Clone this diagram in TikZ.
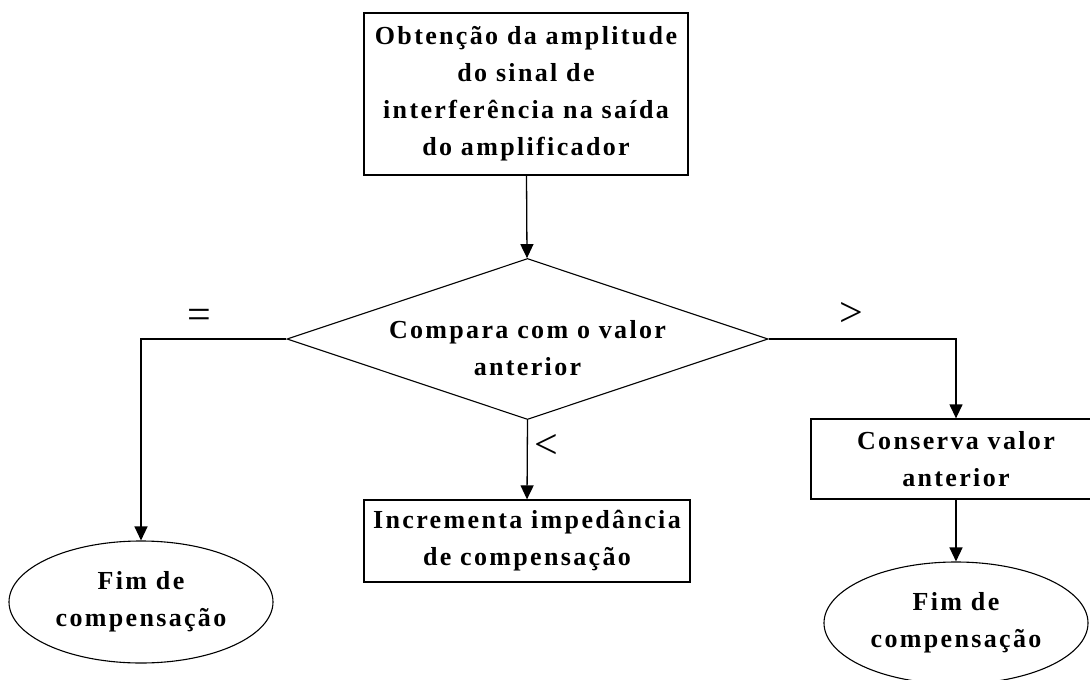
\documentclass[tikz,border=0pt]{standalone}
\usepackage{fontspec}
\setmainfont{Liberation Serif}[LetterSpace = 9]
\usetikzlibrary{shapes.geometric, arrows.meta}

\tikzset{
	texto/.style = {align = center, inner sep = 0pt, font = \fontsize{26}{37}\selectfont\bfseries},
	caixa/.style = {texto, draw, line width = 1.3pt, rectangle},
	losango/.style = {draw, line width = 1.1pt, diamond, aspect = 3, inner sep = 0pt, minimum width = 481pt, minimum height = 161pt},
	fim/.style = {texto, draw, line width = 1.1pt, ellipse, minimum width = 264pt, minimum height = 122pt},
	seta/.style = {line width = 1.3pt, -{Triangle[length = 14pt, width = 13pt]}},
	sinal/.style = {font = \fontsize{42}{42}\selectfont, inner sep = 0pt}
}

\begin{document}
\begin{tikzpicture}[x = 1pt, y = -1pt]
	%	frame
	\useasboundingbox (0, 0) rectangle (1090, 680);
	
	%	blocks
	\node[caixa, minimum width = 324pt, minimum height = 162pt] (obtencao) at (526, 94) {Obtenção da amplitude\\do sinal de\\interferência na saída\\do amplificador};
	\node[losango, label = {[texto, yshift = -9pt]center:{Compara com o valor\\anterior}}] (compara) at (527.5, 339) {};
	\node[caixa, minimum width = 326pt, minimum height = 82pt] (incrementa) at (527, 541) {Incrementa impedância\\de compensação};
	\node[caixa, minimum width = 290pt, minimum height = 80pt] (conserva) at (956, 459) {Conserva valor\\anterior};
	
	%	ends
	\node[fim] (fimesq) at (141, 602) {Fim de\\compensação};
	\node[fim] (fimdir) at (956, 623) {Fim de\\compensação};
	
	%	arrows
	\draw[seta] (obtencao) -- (compara);
	\draw[seta] (compara.west) -| (fimesq.north) node[sinal, pos = 0.3, above = 10pt]{=};
	\draw[seta] (compara.east) -| (conserva.north) node[sinal, pos = 0.22, above = 12pt]{>};
	\draw[seta] (compara.south) -- (incrementa.north) node[sinal, pos = 0.33, right = 7pt]{<};
	\draw[seta] (conserva) -- (fimdir);
\end{tikzpicture}
\end{document}
